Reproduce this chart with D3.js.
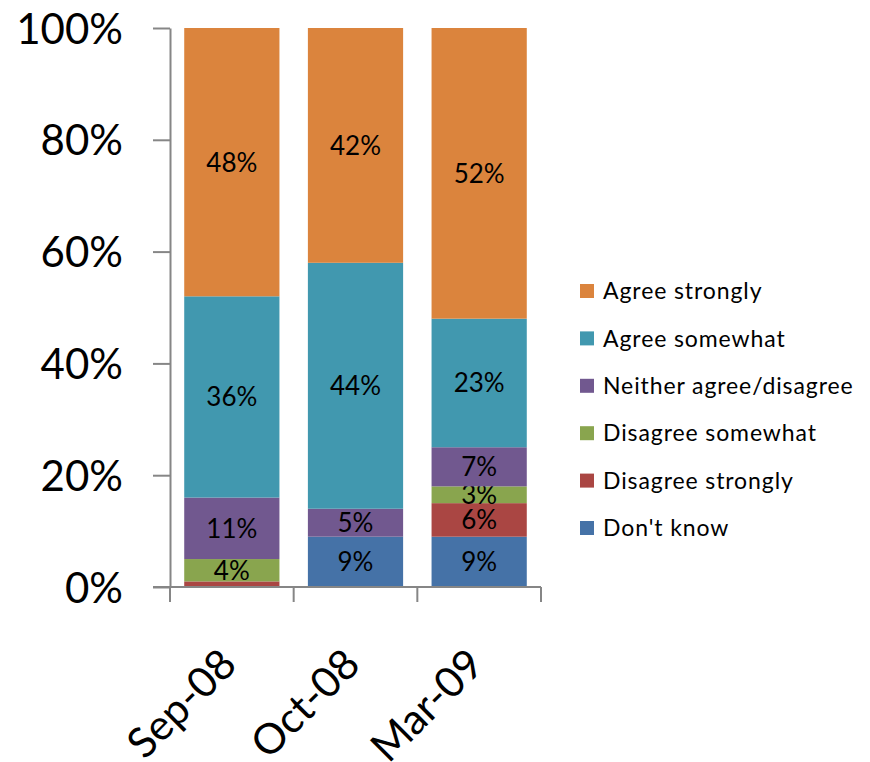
<!DOCTYPE html>
<html>
<head>
<meta charset="utf-8">
<script src="https://cdn.jsdelivr.net/npm/d3@7"></script>
<style>
  html, body { margin: 0; padding: 0; background: #fff; }
  svg { display: block; font-family: Lato, "Open Sans", sans-serif; }
</style>
</head>
<body>
<svg id="chart" width="870" height="762"></svg>
<script>
// Survey waves
const categories = ["Sep-08", "Oct-08", "Mar-09"];

// Response series, stacked bottom to top (percent of respondents)
const seriesNames = ["Don't know", "Disagree strongly", "Disagree somewhat",
                     "Neither agree/disagree", "Agree somewhat", "Agree strongly"];
const dontKnow          = [0, 9, 9];
const disagreeStrongly  = [1, 0, 6];
const disagreeSomewhat  = [4, 0, 3];
const neither           = [11, 5, 7];
const agreeSomewhat     = [36, 44, 23];
const agreeStrongly     = [48, 42, 52];

const seriesColors = ["#4572A7", "#AA4643", "#89A54E", "#71588F", "#4198AF", "#DB843D"];
const yTicks = [0, 20, 40, 60, 80, 100];

const seriesValues = [dontKnow, disagreeStrongly, disagreeSomewhat, neither, agreeSomewhat, agreeStrongly];

// Build table rows for d3.stack
const rows = categories.map((c, i) => {
  const r = { cat: c };
  seriesNames.forEach((s, k) => { r[s] = seriesValues[k][i]; });
  return r;
});
const stacked = d3.stack().keys(seriesNames)(rows);

const svg = d3.select("#chart");
const axisColor = "#868686";

const x = d3.scaleBand().domain(categories).range([170, 541])
  .paddingInner(0.23).paddingOuter(0.115);
const y = d3.scaleLinear().domain([0, 100]).range([587, 28]);
const color = d3.scaleOrdinal().domain(seriesNames).range(seriesColors);

// Bars
const layers = svg.append("g").selectAll("g").data(stacked).join("g")
  .attr("fill", d => color(d.key));
layers.selectAll("rect").data(d => d).join("rect")
  .attr("x", d => x(d.data.cat))
  .attr("width", x.bandwidth())
  .attr("y", d => y(d[1]))
  .attr("height", d => y(d[0]) - y(d[1]));

// Value labels
layers.selectAll("text").data(d => d.map(v => ({ v, key: d.key })).filter(o => o.v.data[o.key] >= 2))
  .join("text")
  .attr("x", o => x(o.v.data.cat) + x.bandwidth() / 2)
  .attr("y", o => (y(o.v[0]) + y(o.v[1])) / 2)
  .attr("dy", "0.36em")
  .attr("text-anchor", "middle")
  .attr("fill", "#000")
  .attr("font-size", 26)
  .text(o => o.v.data[o.key] + "%");

// Y axis
const yAxis = svg.append("g").attr("transform", "translate(170,0)")
  .call(d3.axisLeft(y).tickValues(yTicks).tickSize(17).tickSizeOuter(0).tickPadding(30)
    .tickFormat(d => d + "%"));
yAxis.select(".domain").attr("stroke", axisColor).attr("stroke-width", 2);
yAxis.selectAll(".tick line").attr("stroke", axisColor).attr("stroke-width", 2);
yAxis.selectAll(".tick text").attr("font-size", 42).attr("fill", "#000")
  .attr("font-family", "Lato, sans-serif").attr("dy", "0.36em");

// X axis baseline and category boundary ticks
const xBase = y(0);
svg.append("line").attr("x1", 153).attr("x2", 541).attr("y1", xBase).attr("y2", xBase)
  .attr("stroke", axisColor).attr("stroke-width", 2);
const step = x.step();
const bounds = d3.range(categories.length + 1).map(i => 170 + i * step);
svg.append("g").selectAll("line").data(bounds).join("line")
  .attr("x1", d => d).attr("x2", d => d)
  .attr("y1", xBase).attr("y2", xBase + 15)
  .attr("stroke", axisColor).attr("stroke-width", 2);

// Rotated category labels
svg.append("g").selectAll("text").data(categories).join("text")
  .attr("transform", d => `translate(${x(d) + x.bandwidth() / 2 - 14},${xBase + 59}) rotate(-45)`)
  .attr("text-anchor", "end")
  .attr("dy", "0.7em")
  .attr("font-size", 42)
  .attr("fill", "#000")
  .text(d => d);

// Legend (top entry = top of stack)
const legendItems = seriesNames.slice().reverse();
const lg = svg.append("g").attr("transform", "translate(580,291)");
const item = lg.selectAll("g").data(legendItems).join("g")
  .attr("transform", (d, i) => `translate(0,${i * 47.4})`);
item.append("rect").attr("x", 0).attr("y", -7).attr("width", 14).attr("height", 14)
  .attr("fill", d => color(d));
item.append("text").attr("x", 23).attr("dy", "0.36em")
  .attr("font-size", 23).attr("letter-spacing", 0.9).attr("fill", "#000").text(d => d);
</script>
</body>
</html>
